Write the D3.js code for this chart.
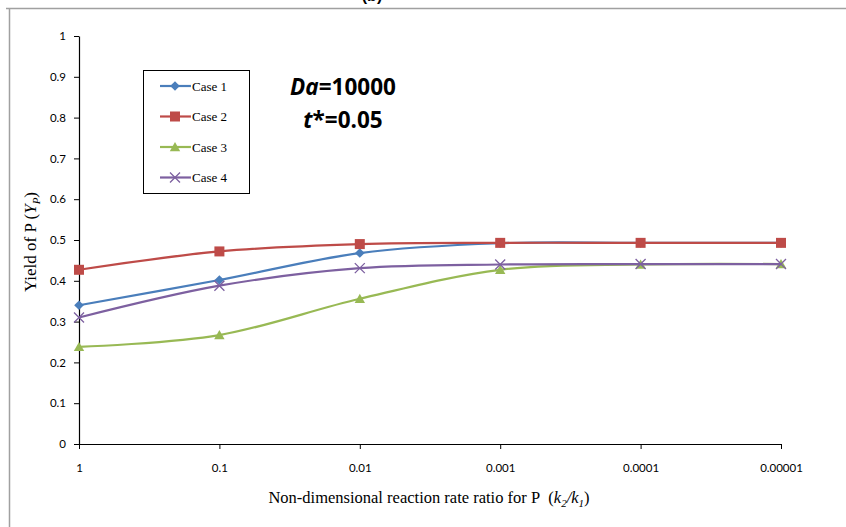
<!DOCTYPE html>
<meta charset="utf-8">
<style>
body { margin: 0; background: #fff; }
.tick text { font-family: Lato, "Open Sans", sans-serif; font-size: 11.5px; fill: #000; }
.axis path, .axis line { stroke: #000; }
</style>
<body>
<script src="https://cdn.jsdelivr.net/npm/d3@7"></script>
<script>

// data
var ratios = [1, 0.1, 0.01, 0.001, 0.0001, 0.00001];
var ratioLabels = ["1", "0.1", "0.01", "0.001", "0.0001", "0.00001"];
var case1 = [0.340, 0.402, 0.468, 0.492, 0.493, 0.493];
var case2 = [0.427, 0.472, 0.490, 0.493, 0.493, 0.493];
var case3 = [0.238, 0.267, 0.356, 0.427, 0.440, 0.441];
var case4 = [0.310, 0.388, 0.431, 0.440, 0.441, 0.441];
var yTicks = [0, 0.1, 0.2, 0.3, 0.4, 0.5, 0.6, 0.7, 0.8, 0.9, 1];

var series = [
  {name: "Case 1", values: case1, color: "#4A7EBB", marker: "diamond"},
  {name: "Case 2", values: case2, color: "#BE4B48", marker: "square"},
  {name: "Case 3", values: case3, color: "#98B954", marker: "triangle"},
  {name: "Case 4", values: case4, color: "#7D60A0", marker: "cross"}
];

var W = 846, H = 527;
var margin = {top: 36, right: 65, bottom: 83, left: 79},
    width = W - margin.left - margin.right,
    height = H - margin.top - margin.bottom;

var svg = d3.select("body").append("svg")
    .attr("width", W)
    .attr("height", H);

// frame of the figure (only top and left show)
svg.append("line").attr("x1", 6).attr("x2", W).attr("y1", 8.5).attr("y2", 8.5)
    .attr("stroke", "#a0a0a0").attr("stroke-width", 1.5);
svg.append("line").attr("x1", 9.5).attr("x2", 9.5).attr("y1", 8).attr("y2", H)
    .attr("stroke", "#a0a0a0").attr("stroke-width", 1.5);

// panel label, cut off by the top edge as in the source
svg.append("text").attr("x", 372).attr("y", 1)
    .attr("text-anchor", "middle")
    .style("font-family", "Liberation Sans, sans-serif").style("font-size", "16px").style("font-weight", "bold")
    .text("(b)");

var g = svg.append("g").attr("transform", "translate(" + margin.left + "," + margin.top + ")");

var x = d3.scaleLog().domain([1, 0.00001]).range([0, width]);
var y = d3.scaleLinear().domain([0, 1]).range([height, 0]);

g.append("g")
    .attr("class", "axis")
    .attr("transform", "translate(0," + height + ")")
    .call(d3.axisBottom(x).tickValues(ratios).tickFormat(function(d, i) { return ratioLabels[i]; })
      .tickSizeInner(5).tickSizeOuter(0).tickPadding(15));

g.append("g")
    .attr("class", "axis")
    .call(d3.axisLeft(y).tickValues(yTicks).tickFormat(d3.format("")).tickSizeInner(5).tickSizeOuter(0).tickPadding(8));

g.selectAll(".axis .domain").attr("stroke-width", 1.2);

var line = d3.line()
    .x(function(d, i) { return x(ratios[i]); })
    .y(function(d) { return y(d); })
    .curve(d3.curveCardinal.tension(0));

function marker(sel, type, color) {
  if (type === "diamond") {
    sel.append("path").attr("d", "M0,-4.8L4.8,0L0,4.8L-4.8,0Z").attr("fill", color);
  } else if (type === "square") {
    sel.append("rect").attr("x", -5).attr("y", -5).attr("width", 10).attr("height", 10).attr("fill", color);
  } else if (type === "triangle") {
    sel.append("path").attr("d", "M0,-5L5.2,4.2L-5.2,4.2Z").attr("fill", color);
  } else {
    sel.append("path").attr("d", "M-5,-5L5,5M-5,5L5,-5").attr("stroke", color).attr("stroke-width", 1.3).attr("fill", "none");
  }
}

series.forEach(function(s) {
  g.append("path")
      .datum(s.values)
      .attr("fill", "none")
      .attr("stroke", s.color)
      .attr("stroke-width", 2.2)
      .attr("d", line);
  s.values.forEach(function(v, i) {
    var m = g.append("g").attr("transform", "translate(" + x(ratios[i]) + "," + y(v) + ")");
    marker(m, s.marker, s.color);
  });
});

// legend
var leg = svg.append("g").attr("transform", "translate(143,70)");
leg.append("rect").attr("x", 0.5).attr("y", 0.5).attr("width", 106).attr("height", 123)
    .attr("fill", "#fff").attr("stroke", "#000").attr("stroke-width", 1);
series.forEach(function(s, i) {
  var row = leg.append("g").attr("transform", "translate(0," + (16 + i * 30.5) + ")");
  row.append("line").attr("x1", 17).attr("x2", 48).attr("stroke", s.color).attr("stroke-width", 2.2);
  var m = row.append("g").attr("transform", "translate(32,0)");
  marker(m, s.marker, s.color);
  row.append("text").attr("x", 49).attr("y", 4.5)
      .style("font-family", "Liberation Serif, serif").style("font-size", "13px")
      .text(s.name);
});

// annotation
var ann = svg.append("text").attr("x", 343).attr("y", 95).attr("text-anchor", "middle")
    .style("font-family", "Open Sans, Liberation Sans, sans-serif").style("font-size", "22.5px").style("font-weight", "bold");
ann.append("tspan").style("font-style", "italic").text("Da");
ann.append("tspan").text("=10000");
var ann2 = svg.append("text").attr("x", 343).attr("y", 128).attr("text-anchor", "middle")
    .style("font-family", "Open Sans, Liberation Sans, sans-serif").style("font-size", "22.5px").style("font-weight", "bold");
ann2.append("tspan").style("font-style", "italic").text("t");
ann2.append("tspan").text("*=0.05");

// axis titles
var yt = svg.append("text")
    .attr("transform", "translate(36,242) rotate(-90)")
    .attr("text-anchor", "middle")
    .style("font-family", "Liberation Serif, serif").style("font-size", "17px");
yt.append("tspan").text("Yield of P (");
yt.append("tspan").style("font-style", "italic").text("Y");
yt.append("tspan").style("font-style", "italic").style("font-size", "11px").attr("dy", 4).text("P");
yt.append("tspan").attr("dy", -4).text(")");

var xt = svg.append("text")
    .attr("x", 429).attr("y", 503)
    .attr("text-anchor", "middle")
    .style("font-family", "Liberation Serif, serif").style("font-size", "16.5px");
xt.append("tspan").text("Non-dimensional reaction rate ratio for P\u00a0\u00a0(");
xt.append("tspan").style("font-style", "italic").text("k");
xt.append("tspan").style("font-style", "italic").style("font-size", "11px").attr("dy", 4).text("2");
xt.append("tspan").style("font-style", "italic").attr("dy", -4).text("/k");
xt.append("tspan").style("font-style", "italic").style("font-size", "11px").attr("dy", 4).text("1");
xt.append("tspan").attr("dy", -4).text(")");

</script>
